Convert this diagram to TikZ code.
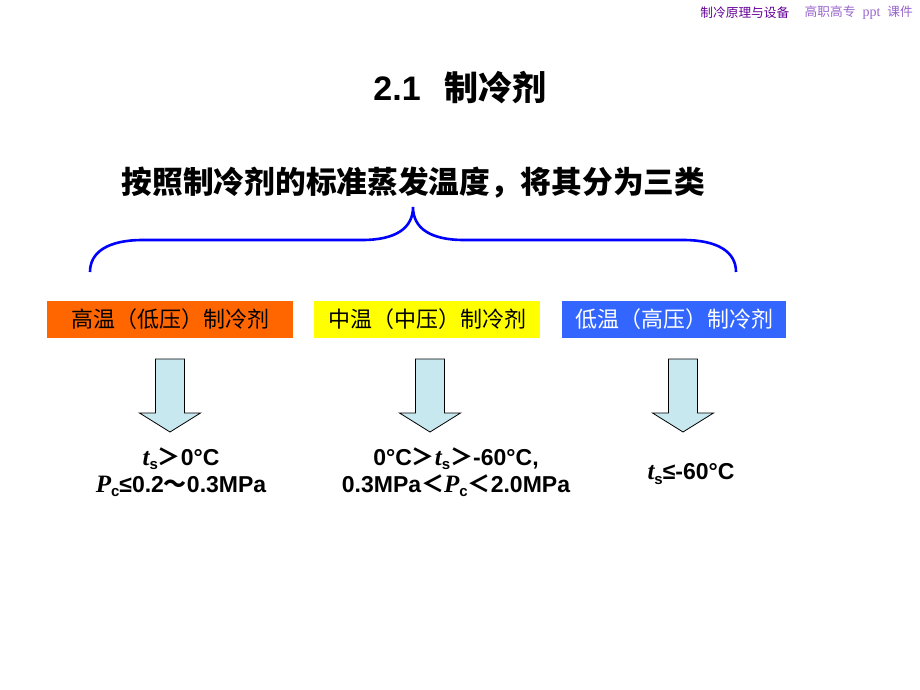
\documentclass[tikz,border=0pt]{standalone}
\usepackage{fontspec}
\setmainfont{Liberation Sans}
\newfontfamily\cjk{Noto Sans CJK SC}
\newfontfamily\tnr{Liberation Serif}
\usetikzlibrary{positioning}
\definecolor{boxorange}{RGB}{255,102,0}
\definecolor{boxyellow}{RGB}{255,255,0}
\definecolor{boxblue}{RGB}{51,102,255}
\definecolor{arrowfill}{RGB}{200,232,240}
\definecolor{headpurple}{RGB}{102,0,153}
\definecolor{headlilac}{RGB}{153,102,204}
\newcommand{\lowsub}[1]{\raisebox{-0.35ex}{\fontsize{15}{15}\selectfont #1}}
\newcommand{\tsym}{{\tnr\itshape\fontsize{25}{25}\selectfont t}\lowsub{s}}
\newcommand{\Psym}{{\tnr\itshape\fontsize{25}{25}\selectfont P}\lowsub{c}}
\tikzset{
  catbox/.style={minimum height=37pt, inner sep=0pt, font=\cjk\fontsize{22}{22}\selectfont},
  valtext/.style={align=center, inner sep=0pt, font=\bfseries\fontsize{23}{27}\selectfont},
  blockarrow/.style={draw=black, fill=arrowfill, line width=0.8pt}
}
\begin{document}
\begin{tikzpicture}[x=1pt, y=-1pt]
  \useasboundingbox[fill=white] (0,0) rectangle (920,690);
  % header
  \node[anchor=east, inner sep=0pt, text=headlilac, font=\cjk\fontsize{12.7}{13}\selectfont] (hdB) at (913,13) {高职高专\hspace{7pt}{\tnr\fontsize{14}{14}\selectfont ppt}\hspace{7pt}课件};
  \node[left=15pt of hdB, inner sep=0pt, text=headpurple, font=\cjk\fontsize{12.7}{13}\selectfont] (hdA) {制冷原理与设备};
  % title
  \node[font=\bfseries\fontsize{34}{40}\selectfont] (title) at (460,88) {2.1\hspace{0.7em}{\cjk 制冷剂}};
  \node[font=\cjk\bfseries\fontsize{30.7}{34}\selectfont] (sub) at (413.5,183) {按照制冷剂的标准蒸发温度，将其分为三类};
  % brace
  \draw[blue, line width=2.6pt] (90,272) .. controls (90,252) and (108,240) .. (143,240)
    -- (362,240) .. controls (396,240) and (413,228) .. (413,207)
    .. controls (413,228) and (430,240) .. (464,240)
    -- (683,240) .. controls (718,240) and (736,252) .. (736,272);
  % categories
  \node[catbox, fill=boxorange, minimum width=246pt] (hot) at (170,319.5) {高温（低压）制冷剂};
  \node[catbox, fill=boxyellow, minimum width=226pt] (mid) at (427,319.5) {中温（中压）制冷剂};
  \node[catbox, fill=boxblue, text=white, minimum width=224pt] (low) at (674,319.5) {低温（高压）制冷剂};
  % block arrows
  \foreach \x in {170,430,683}
    \draw[blockarrow] ({\x-14.5},359) -- ({\x+14.5},359) -- ({\x+14.5},413) -- ({\x+30.5},413)
      -- (\x,432) -- ({\x-30.5},413) -- ({\x-14.5},413) -- cycle;
  % ranges
  \node[valtext] (hotval) at (181,472) {\tsym{\cjk＞}0°C\\\Psym≤0.2{\cjk～}0.3MPa};
  \node[valtext] (midval) at (456,472) {0°C{\cjk＞}\tsym{\cjk＞}-60°C,\\0.3MPa{\cjk＜}\Psym{\cjk＜}2.0MPa};
  \node[valtext] (lowval) at (691,474) {\tsym≤-60°C};
\end{tikzpicture}
\end{document}
